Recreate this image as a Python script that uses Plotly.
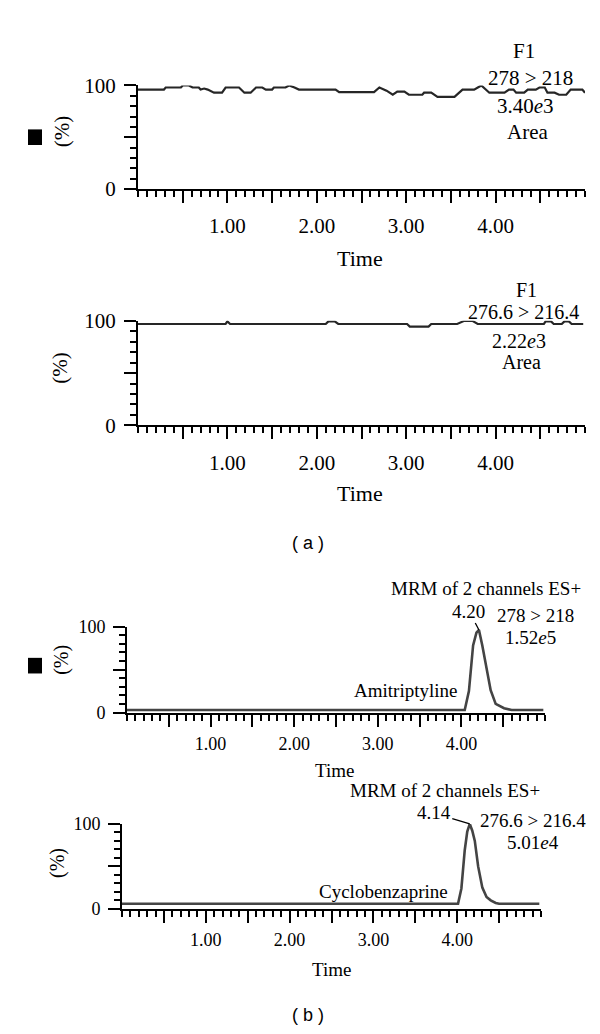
import plotly.graph_objects as go

# ---------------- data ----------------
t1 = [0.00, 0.29, 0.31, 0.48, 0.50, 0.57, 0.61, 0.68, 0.70, 0.74, 0.78, 0.85, 0.94, 0.98, 1.13, 1.19, 1.26,
      1.32, 1.39, 1.43, 1.50, 1.52, 1.65, 1.69, 1.75, 1.80, 2.21, 2.25, 2.64, 2.70, 2.78, 2.85, 2.90, 2.98,
      3.03, 3.18, 3.20, 3.28, 3.35, 3.54, 3.63, 3.76, 3.84, 3.93, 4.10, 4.15, 4.20, 4.23, 4.32, 4.36, 4.45,
      4.49, 4.55, 4.58, 4.66, 4.71, 4.79, 4.84, 4.97, 5.00]
v1 = [96, 96, 98, 98, 100, 100, 98, 98, 96, 97, 96, 93, 93, 98, 98, 93, 93,
      98, 98, 96, 96, 98, 98, 100, 98, 96, 96, 93.5, 93.5, 98, 95, 91, 94, 94,
      91, 91, 93, 93, 89, 89, 96, 96, 100, 93, 93, 96, 96, 93, 93, 96, 96,
      98, 98, 93, 93, 91, 91, 96, 96, 93]

t2 = [0.00, 0.98, 1.00, 1.03, 2.10, 2.13, 2.20, 2.24, 3.01, 3.04, 3.25, 3.28, 3.57, 3.65, 3.74, 3.80,
      4.54, 4.56, 4.62, 4.65, 4.74, 4.77, 4.82, 4.85, 4.98]
v2 = [97, 97, 99.5, 97, 97, 99.5, 99.5, 97, 97, 94.5, 94.5, 97, 97, 100, 100, 97,
      97, 99.5, 99.5, 97, 97, 99.5, 99.5, 97, 97]

t3 = [0.00, 4.04, 4.09, 4.14, 4.18, 4.21, 4.25, 4.30, 4.35, 4.41, 4.51, 4.60, 4.98]
v3 = [3, 3, 25, 78, 93, 96, 78, 52, 26, 10, 5, 3, 3]

t4 = [0.00, 4.01, 4.05, 4.09, 4.12, 4.15, 4.18, 4.21, 4.25, 4.30, 4.35, 4.40, 4.46, 4.50, 4.98]
v4 = [6, 6, 24, 69, 91, 100, 92, 80, 50, 25, 14, 10, 7, 6, 6]

x_tickvals = [0.5, 1.0, 1.5, 2.0, 2.5, 3.0, 3.5, 4.0, 4.5]
x_ticktext = ["", "1.00", "", "2.00", "", "3.00", "", "4.00", ""]
y_tickvals = [0, 50, 100]
y_ticktext = ["0", "", "100"]

W, H = 600, 1034
SERIF = "Liberation Serif"
SANS = "Liberation Sans"


def PX(x):
    return x / W


def PY(y):
    return 1 - y / H


fig = go.Figure()

panels = [
    dict(t=t1, v=v1, x=(130, 577), y=(173, 67), lw=2.2, col="#262626", fs=21, so=5),
    dict(t=t2, v=v2, x=(130, 577), y=(415, 308), lw=2.2, col="#262626", fs=21, so=5),
    dict(t=t3, v=v3, x=(119, 537), y=(709, 621), lw=2.6, col="#444444", fs=18, so=2),
    dict(t=t4, v=v4, x=(114, 533), y=(910, 823), lw=2.6, col="#444444", fs=18, so=2),
]

for i, p in enumerate(panels, start=1):
    xa = "x" if i == 1 else f"x{i}"
    ya = "y" if i == 1 else f"y{i}"
    fig.add_trace(go.Scatter(x=p["t"], y=p["v"], mode="lines", xaxis=xa, yaxis=ya,
                             line=dict(color=p["col"], width=p["lw"]), showlegend=False,
                             hoverinfo="skip"))
    xkey = "xaxis" if i == 1 else f"xaxis{i}"
    ykey = "yaxis" if i == 1 else f"yaxis{i}"
    fig.layout[xkey] = dict(
        domain=[PX(p["x"][0]), PX(p["x"][1])], range=[0, 5.0], anchor=ya,
        showline=True, linecolor="black", linewidth=2, showgrid=False, zeroline=False,
        ticks="outside", tickvals=x_tickvals, ticktext=x_ticktext, ticklen=12,
        tickwidth=2, tickcolor="black", ticklabelstandoff=p["so"],
        minor=dict(ticks="outside", dtick=0.1, tick0=0, ticklen=6, tickwidth=1.5,
                   tickcolor="black", showgrid=False),
        tickfont=dict(family=SERIF, size=p["fs"], color="black"), fixedrange=True)
    fig.layout[ykey] = dict(
        domain=[PY(p["y"][0]), PY(p["y"][1])], range=[0, 100], anchor=xa,
        showline=True, linecolor="black", linewidth=2, showgrid=False, zeroline=False,
        ticks="outside", tickvals=y_tickvals, ticktext=y_ticktext, ticklen=12,
        tickwidth=2, tickcolor="black", ticklabelstandoff=4,
        minor=dict(ticks="outside", dtick=10, tick0=0, ticklen=6, tickwidth=1.5,
                   tickcolor="black", showgrid=False),
        tickfont=dict(family=SERIF, size=p["fs"], color="black"), fixedrange=True)

ann = []


def txt(text, x, y, size=21, family=SERIF, angle=0, xanchor="center"):
    ann.append(dict(text=text, x=PX(x), y=PY(y), xref="paper", yref="paper", showarrow=False,
                    xanchor=xanchor, yanchor="middle", textangle=angle,
                    font=dict(family=family, size=size, color="black")))


# panel 1
txt("F1", 516, 32)
txt("278 &gt; 218", 522, 59)
txt("3.40<i>e</i>3", 517, 88)
txt("Area", 519, 115)
txt("(%)", 54, 115, angle=-90)
txt("Time", 352, 244, size=22)
# panel 2
txt("F1", 518, 276, size=20)
txt("276.6 &gt; 216.4", 515, 299, size=20)
txt("2.22<i>e</i>3", 511, 329, size=20)
txt("Area", 513, 350, size=20)
txt("(%)", 52, 357, angle=-90)
txt("Time", 352, 485, size=22)
txt("( a )", 300, 535, size=18, family=SANS)
# panel 3
txt("MRM of 2 channels ES+", 478, 582, size=19)
txt("278 &gt; 218", 527, 610, size=19)
txt("1.52<i>e</i>5", 522, 632, size=19)
txt("Amitriptyline", 397, 686, size=19)
txt("(%)", 54, 655, angle=-90, size=20)
txt("Time", 326, 768, size=19)
# panel 4
txt("MRM of 2 channels ES+", 437, 789, size=19)
txt("276.6 &gt; 216.4", 525, 820, size=19)
txt("5.01<i>e</i>4", 525, 842, size=19)
txt("Cyclobenzaprine", 375, 892, size=19)
txt("(%)", 50, 863, angle=-90, size=20)
txt("Time", 323, 972, size=19)
txt("( b )", 300, 1019, size=18, family=SANS)

# peak labels with leader lines
ann.append(dict(text="4.20", x=4.21, y=96, xref="x3", yref="y3", showarrow=True, arrowhead=0,
                arrowwidth=1.3, arrowcolor="black", ax=-10, ay=-19, standoff=0,
                font=dict(family=SERIF, size=19, color="black")))
ann.append(dict(text="4.14", x=4.15, y=100, xref="x4", yref="y4", showarrow=True, arrowhead=0,
                arrowwidth=1.3, arrowcolor="black", ax=-36, ay=-11, standoff=0,
                font=dict(family=SERIF, size=19, color="black")))

fig.update_layout(annotations=ann)

# black square markers
for yc in (120, 661):
    fig.add_shape(type="rect", xref="paper", yref="paper", x0=PX(20), x1=PX(34),
                  y0=PY(yc + 8), y1=PY(yc - 8), fillcolor="black", line=dict(width=0))

fig.update_layout(width=W, height=H, margin=dict(l=0, r=0, t=0, b=0),
                  paper_bgcolor="white", plot_bgcolor="white", showlegend=False)

fig.write_html("out.html")
